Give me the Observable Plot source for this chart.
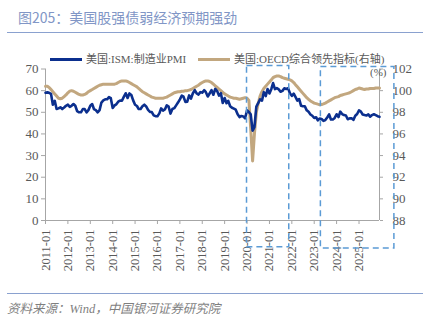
<!DOCTYPE html>
<html>
<head>
<meta charset="utf-8">
<script src="https://cdn.jsdelivr.net/npm/d3@7"></script>
<script src="https://cdn.jsdelivr.net/npm/@observablehq/plot@0.6"></script>
<style>
  html, body { margin: 0; padding: 0; background: #fff; }
  body { width: 428px; height: 323px; position: relative; overflow: hidden; }
  #chart { position: absolute; left: 0; top: 0; }
  .title { position: absolute; left: 18px; top: 7px; font: 14px "Noto Sans CJK SC", sans-serif; color: #8196c6; white-space: nowrap; }
  .rule { position: absolute; left: 7px; width: 416px; height: 0; border-top: 1.5px solid #8aa1cf; }
  .legend { position: absolute; top: 53px; font: 11px/13px "Liberation Serif", "Noto Sans CJK SC", serif; color: #595959; white-space: nowrap; }
  .legend span.sw { display: inline-block; width: 32px; height: 3px; vertical-align: middle; margin-right: 4px; position: relative; top: -1px; }
  .footer { position: absolute; left: 7px; top: 298px; font: italic 12.5px "Liberation Serif", "Noto Sans CJK SC", serif; color: #7f7f7f; white-space: nowrap; }
  .unit { position: absolute; left: 370px; top: 66px; font: 11px/12px "Liberation Serif", serif; color: #595959; }
</style>
</head>
<body>
<div class="title">图205：美国股强债弱经济预期强劲</div>
<div class="rule" style="top:32px"></div>
<div id="chart"></div>
<div class="legend" style="left:50px"><span class="sw" style="background:#0b2f8e"></span>美国:ISM:制造业PMI</div>
<div class="legend" style="left:198px"><span class="sw" style="background:#c2a77f"></span>美国:OECD综合领先指标(右轴)</div>
<div class="unit">(%)</div>
<div class="rule" style="top:293px"></div>
<div class="footer">资料来源：Wind，中国银河证券研究院</div>
<script>
// ---- data (monthly, starting 2011-01) ----
const startYear = 2011;
const pmi = [
  59.0, 59.2, 59.0, 58.5, 53.5, 55.3, 51.5, 51.8, 52.3, 51.5, 52.2, 53.0, // 2011
  53.5, 52.5, 53.0, 53.8, 53.0, 50.5, 50.0, 50.0, 51.5, 51.5, 50.0, 51.0, // 2012
  53.0, 53.8, 51.5, 51.0, 50.0, 51.0, 54.5, 55.5, 56.0, 56.0, 57.0, 56.5, // 2013
  52.0, 53.2, 53.7, 54.9, 55.4, 55.3, 57.1, 58.8, 56.6, 58.7, 58.0, 55.5, // 2014
  53.5, 52.9, 51.5, 51.5, 52.8, 53.5, 52.7, 51.1, 50.2, 50.1, 48.6, 48.2, // 2015
  48.2, 49.5, 51.8, 50.8, 51.3, 53.2, 52.6, 49.4, 51.5, 51.9, 53.2, 54.5, // 2016
  56.0, 57.7, 57.2, 54.8, 54.9, 57.8, 56.3, 58.8, 60.2, 58.7, 58.2, 59.3, // 2017
  59.1, 60.2, 59.3, 57.3, 58.7, 60.2, 58.1, 60.8, 59.8, 57.7, 58.8, 54.3, // 2018
  56.6, 54.2, 55.3, 52.8, 52.1, 51.7, 51.2, 49.1, 47.8, 48.3, 48.1, 47.2, // 2019
  50.9, 50.1, 49.1, 41.5, 43.1, 52.6, 54.2, 56.0, 55.4, 59.3, 57.5, 60.7, // 2020
  58.7, 60.8, 63.5, 60.7, 61.2, 60.6, 59.5, 59.9, 61.1, 60.8, 61.1, 58.8, // 2021
  57.6, 58.6, 57.1, 55.4, 56.1, 53.0, 52.8, 52.8, 50.9, 50.2, 49.0, 48.4, // 2022
  47.4, 47.7, 46.3, 47.1, 46.9, 46.0, 46.4, 47.6, 49.0, 46.7, 46.7, 47.4, // 2023
  49.1, 47.8, 50.3, 49.2, 48.7, 48.5, 46.8, 47.2, 47.2, 46.5, 48.4, 49.2, // 2024
  50.9, 50.3, 49.0, 48.7, 48.5, 49.0, 48.0, 48.7, 49.1, 48.7, 48.2, 47.9  // 2025
];
const oecd = [
  100.4, 100.4, 100.3, 100.1, 99.9, 99.7, 99.5, 99.3, 99.25, 99.3, 99.45, 99.6,     // 2011
  99.8, 99.95, 100.0, 99.95, 99.85, 99.75, 99.65, 99.6, 99.6, 99.65, 99.75, 99.9,  // 2012
  100.0, 100.1, 100.2, 100.3, 100.4, 100.5, 100.55, 100.6, 100.6, 100.6, 100.6, 100.6, // 2013
  100.6, 100.6, 100.65, 100.75, 100.85, 100.9, 100.9, 100.9, 100.85, 100.75, 100.65, 100.55, // 2014
  100.45, 100.35, 100.2, 100.05, 99.9, 99.8, 99.7, 99.6, 99.5, 99.4, 99.35, 99.3,   // 2015
  99.3, 99.3, 99.3, 99.3, 99.35, 99.4, 99.5, 99.6, 99.7, 99.8, 99.85, 99.9,         // 2016
  99.9, 99.95, 99.95, 100.0, 100.0, 100.05, 100.1, 100.2, 100.3, 100.4, 100.5, 100.65, // 2017
  100.75, 100.85, 100.9, 100.9, 100.85, 100.75, 100.6, 100.45, 100.3, 100.15, 100.0, 99.85, // 2018
  99.7, 99.6, 99.5, 99.4, 99.35, 99.3, 99.3, 99.25, 99.2, 99.25, 99.3, 99.35,       // 2019
  99.3, 99.1, 96.5, 93.5, 96.0, 98.0, 98.8, 99.5, 99.9, 100.2, 100.4, 100.6,        // 2020
  100.8, 101.0, 101.2, 101.3, 101.35, 101.35, 101.3, 101.2, 101.15, 101.1, 101.05, 101.0, // 2021
  100.9, 100.75, 100.55, 100.35, 100.15, 99.95, 99.75, 99.55, 99.35, 99.2, 99.05, 98.95, // 2022
  98.85, 98.8, 98.75, 98.7, 98.72, 98.78, 98.85, 98.95, 99.05, 99.15, 99.25, 99.35, // 2023
  99.4, 99.45, 99.55, 99.6, 99.65, 99.7, 99.75, 99.8, 99.9, 100.0, 100.1, 100.15,   // 2024
  100.25, 100.2, 100.15, 100.1, 100.15, 100.15, 100.2, 100.2, 100.2, 100.25, 100.25, 100.25 // 2025
];
const leftTicks = [0, 10, 20, 30, 40, 50, 60, 70];
const rightTicks = [88, 90, 92, 94, 96, 98, 100, 102];
const rightDomain = [88, 102];
const leftDomain = [0, 70];
// highlighted periods (dashed boxes)
const boxStart = ["2020-01-01", "2023-04-20"];
const boxEnd   = ["2021-11-20", "2026-08-01"];
const boxLow   = [-12.4, -12.9];
const boxHigh  = [71.4, 70.9];

// ---- build ----
const dates = pmi.map((_, i) => new Date(Date.UTC(startYear, i, 1)));
const toLeft = v => (v - rightDomain[0]) / (rightDomain[1] - rightDomain[0]) * (leftDomain[1] - leftDomain[0]) + leftDomain[0];
const toRight = v => (v - leftDomain[0]) / (leftDomain[1] - leftDomain[0]) * (rightDomain[1] - rightDomain[0]) + rightDomain[0];
const pmiData = dates.map((d, i) => ({date: d, v: pmi[i]}));
const oecdData = dates.map((d, i) => ({date: d, v: toLeft(oecd[i])}));
const boxes = boxStart.map((s, i) => ({x1: new Date(s), x2: new Date(boxEnd[i]), y1: boxLow[i], y2: boxHigh[i]}));
const yearTicks = d3.utcYear.range(new Date(Date.UTC(2011, 0, 1)), new Date(Date.UTC(2026, 0, 1)));

const axisColor = "#a6a6a6";
const chart = Plot.plot({
  width: 428,
  height: 323,
  marginLeft: 45,
  marginRight: 49,
  marginTop: 68.5,
  marginBottom: 103,
  style: {fontFamily: "'Liberation Serif', serif", fontSize: "13px", color: "#595959", background: "transparent", overflow: "visible"},
  x: {type: "utc", domain: [dates[0], dates[dates.length - 1]]},
  y: {domain: leftDomain},
  marks: [
    Plot.axisY(leftTicks, {anchor: "left", tickSize: 4, tickPadding: 3, stroke: axisColor, fill: "#595959", fontSize: 13, label: null}),
    Plot.axisY(rightTicks.map(toLeft), {anchor: "right", tickSize: 3, tickPadding: 10, stroke: axisColor, fill: "#595959", fontSize: 13, label: null, tickFormat: d => Math.round(toRight(d))}),
    Plot.axisX(yearTicks, {anchor: "bottom", tickSize: 4, tickPadding: 5, tickRotate: -90, stroke: axisColor, fill: "#595959", fontSize: 12.5, label: null, tickFormat: d3.utcFormat("%Y-%m")}),
    Plot.ruleX([dates[0]], {stroke: axisColor, strokeWidth: 1}),
    Plot.ruleX([dates[dates.length - 1]], {stroke: axisColor, strokeWidth: 1}),
    Plot.ruleY([0], {stroke: axisColor, strokeWidth: 1}),
    Plot.line(oecdData, {x: "date", y: "v", stroke: "#c2a77f", strokeWidth: 3}),
    Plot.line(pmiData, {x: "date", y: "v", stroke: "#0b2f8e", strokeWidth: 2.6}),
    Plot.rect(boxes, {x1: "x1", x2: "x2", y1: "y1", y2: "y2", fill: "none", stroke: "#5b9bd5", strokeWidth: 1.5, strokeDasharray: "6,4", clip: false})
  ]
});
document.getElementById("chart").appendChild(chart);
</script>
</body>
</html>
